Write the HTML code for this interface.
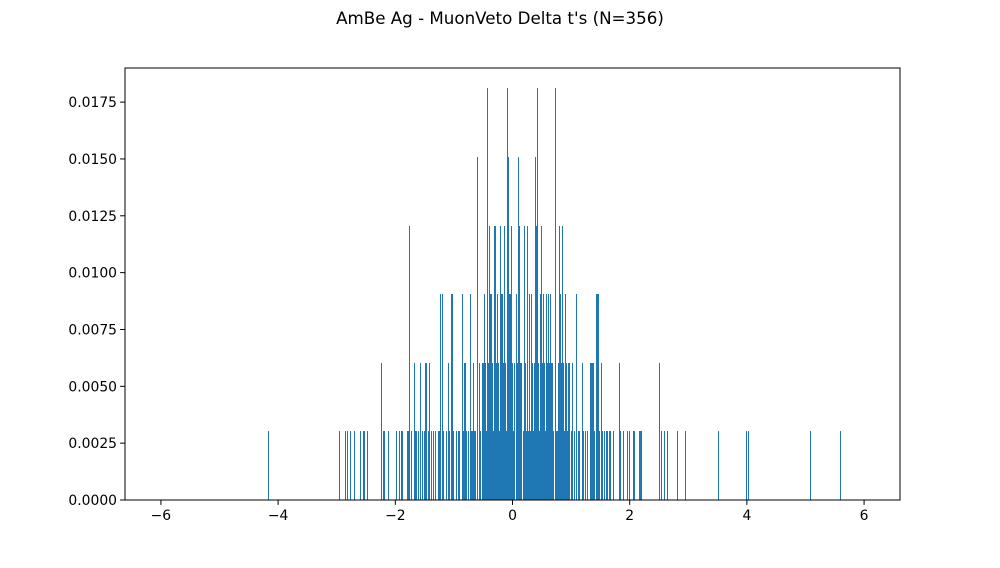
<!DOCTYPE html>
<html><head><meta charset="utf-8"><style>
body{margin:0;background:#fff;}
svg text{font-family:"DejaVu Sans","Liberation Sans",sans-serif;fill:#000;}
</style></head><body>
<svg id="chart" width="1000" height="563" xmlns="http://www.w3.org/2000/svg">
<rect x="0" y="0" width="1000" height="563" fill="#fff"/>
<text x="500" y="24" text-anchor="middle" font-size="16.7">AmBe Ag - MuonVeto Delta t's (N=356)</text>
<g id="bars" shape-rendering="crispEdges"></g>
<g id="axes"></g>
</svg>
<script>
const binCenters = [-4.17,-2.96,-2.85,-2.82,-2.76,-2.69,-2.60,-2.54,-2.53,-2.48,-2.24,-2.20,-2.19,-2.12,-1.98,-1.93,-1.90,-1.88,-1.80,-1.78,-1.76,-1.72,-1.68,-1.66,-1.63,-1.60,-1.57,-1.54,-1.51,-1.48,-1.46,-1.42,-1.39,-1.34,-1.31,-1.27,-1.23,-1.20,-1.17,-1.13,-1.10,-1.04,-1.03,-1.00,-0.96,-0.93,-0.90,-0.86,-0.82,-0.81,-0.78,-0.75,-0.72,-0.69,-0.66,-0.63,-0.60,-0.57,-0.55,-0.52,-0.50,-0.48,-0.46,-0.43,-0.41,-0.40,-0.38,-0.36,-0.34,-0.31,-0.29,-0.28,-0.26,-0.24,-0.21,-0.19,-0.17,-0.15,-0.14,-0.12,-0.09,-0.07,-0.05,-0.04,-0.02,0.00,0.03,0.04,0.06,0.08,0.10,0.12,0.14,0.16,0.18,0.20,0.22,0.25,0.27,0.29,0.31,0.32,0.34,0.37,0.39,0.41,0.42,0.44,0.47,0.49,0.51,0.53,0.55,0.58,0.60,0.61,0.63,0.65,0.67,0.69,0.73,0.75,0.78,0.80,0.82,0.83,0.85,0.87,0.90,0.92,0.95,0.97,1.00,1.02,1.05,1.09,1.12,1.15,1.19,1.22,1.25,1.28,1.33,1.34,1.36,1.38,1.40,1.43,1.45,1.46,1.48,1.52,1.54,1.57,1.60,1.62,1.66,1.68,1.73,1.82,1.84,1.90,1.96,2.00,2.06,2.09,2.16,2.19,2.21,2.51,2.55,2.60,2.64,2.82,2.96,3.51,4.00,4.03,5.08,5.59,
  -0.54,-0.44,-0.33,-0.22,-0.10,0.01,0.13,0.24,0.35,0.46,0.57,0.70,0.77,0.88,0.94,-0.65,-0.70,-0.84,-1.07,-1.25,-1.44];
const binCounts = [1,1,1,1,1,1,1,1,1,1,2,1,1,1,1,1,1,1,1,1,4,1,2,1,1,1,2,1,1,2,2,2,1,1,1,1,3,3,1,1,2,3,3,1,1,1,1,3,2,2,1,1,3,1,2,1,5,2,1,2,2,3,2,6,2,4,3,3,2,4,4,2,3,2,4,3,3,2,4,2,6,5,3,3,4,2,2,1,3,2,5,4,2,2,1,4,2,4,1,3,1,3,2,2,5,4,6,2,3,4,2,3,2,3,2,3,2,3,2,2,6,1,2,4,3,2,4,2,3,2,2,2,1,2,1,3,1,1,2,1,1,1,2,2,2,2,1,3,3,3,1,2,1,1,1,1,1,1,1,2,1,1,1,1,1,1,1,1,1,2,1,1,1,1,1,1,1,1,1,1,
  1,1,1,1,1,1,1,1,1,1,1,1,1,1,1,1,1,1,1,1,1];
const binWidth = 0.012;
const densityPerCount = 0.003017;
const xTicks = [-6,-4,-2,0,2,4,6];
const yTicks = [0,0.0025,0.005,0.0075,0.01,0.0125,0.015,0.0175];

const L=125,R=900,T=68,B=500;
const xMin=-6.613,xMax=6.613,yMin=0,yMax=0.019;
const xs=v=>L+(v-xMin)/(xMax-xMin)*(R-L);
const ys=v=>B-(v-yMin)/(yMax-yMin)*(B-T);
const NS="http://www.w3.org/2000/svg";
const bars=document.getElementById('bars');
binCenters.forEach((c,i)=>{
  const r=document.createElementNS(NS,'rect');
  const w=Math.max(1,Math.round(xs(c+binWidth/2)-xs(c-binWidth/2)));
  const h=Math.round(ys(0)-ys(binCounts[i]*densityPerCount));
  r.setAttribute('x',Math.round(xs(c)-w/2));
  r.setAttribute('y',B-h);
  r.setAttribute('width',w);
  r.setAttribute('height',h);
  r.setAttribute('fill','#1f77b4');
  
  
  bars.appendChild(r);
});
const axes=document.getElementById('axes');
const frame=document.createElementNS(NS,'rect');
frame.setAttribute('x',L);frame.setAttribute('y',T);frame.setAttribute('width',R-L);frame.setAttribute('height',B-T);
frame.setAttribute('fill','none');frame.setAttribute('stroke','#000');frame.setAttribute('stroke-width','1');


axes.appendChild(frame);
xTicks.forEach(t=>{
  const x=xs(t);
  const l=document.createElementNS(NS,'line');
  l.setAttribute('x1',x);l.setAttribute('x2',x);l.setAttribute('y1',B);l.setAttribute('y2',B+4.9);l.setAttribute('stroke','#000');
  
  
  axes.appendChild(l);
  const tx=document.createElementNS(NS,'text');
  tx.setAttribute('x',x);tx.setAttribute('y',B+20);tx.setAttribute('text-anchor','middle');tx.setAttribute('font-size','13.9');
  tx.textContent=(t<0?'\u2212':'')+Math.abs(t);
  
  
  axes.appendChild(tx);
});
yTicks.forEach(t=>{
  const y=ys(t);
  const l=document.createElementNS(NS,'line');
  l.setAttribute('x1',L-4.9);l.setAttribute('x2',L);l.setAttribute('y1',y);l.setAttribute('y2',y);l.setAttribute('stroke','#000');
  
  
  axes.appendChild(l);
  const tx=document.createElementNS(NS,'text');
  tx.setAttribute('x',L-8);tx.setAttribute('y',y+5);tx.setAttribute('text-anchor','end');tx.setAttribute('font-size','13.9');
  tx.textContent=t.toFixed(4);
  
  
  axes.appendChild(tx);
});
</script>
</body></html>
